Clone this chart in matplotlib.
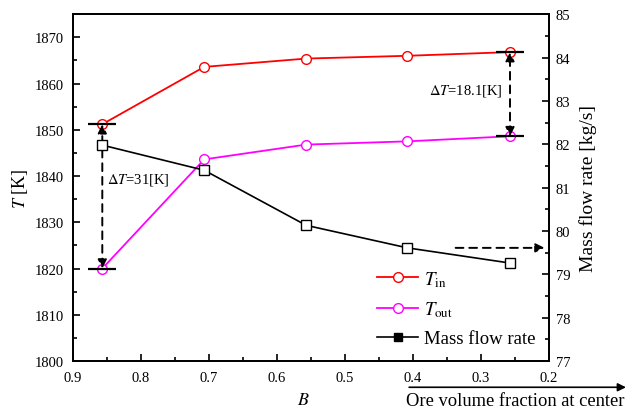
import numpy as np
import matplotlib.pyplot as plt
from matplotlib.lines import Line2D
from matplotlib.patches import FancyArrowPatch

plt.rcParams['font.family'] = ['Liberation Serif', 'DejaVu Serif']
plt.rcParams['mathtext.fontset'] = 'stix'
plt.rcParams['font.size'] = 10.5

# Data
B = np.array([0.857, 0.707, 0.557, 0.408, 0.257])
T_in = np.array([1851.2, 1863.6, 1865.4, 1866.0, 1866.8])
T_out = np.array([1820.0, 1843.6, 1846.8, 1847.5, 1848.6])
mflow = np.array([81.98, 81.40, 80.13, 79.61, 79.26])
dT_labels = [r'$\Delta T$=31[K]', r'$\Delta T$=18.1[K]']

fig = plt.figure(figsize=(6.3, 4.1), dpi=100)
ax1 = fig.add_axes([0.116, 0.117, 0.755, 0.846])
ax2 = ax1.twinx()

ax1.plot(B, T_in, 'r-', marker='o', ms=7, mfc='white', mec='red', lw=1.3, zorder=3)
ax1.plot(B, T_out, '-', color='magenta', marker='o', ms=7, mfc='white', mec='magenta', lw=1.3, zorder=3)
ax2.plot(B, mflow, 'k-', marker='s', ms=6.5, mfc='white', mec='k', lw=1.2)

# Delta T markers
for i, lab, dx, dy, ha in [(0, dT_labels[0], -0.007, 3.7, 'left'), (-1, dT_labels[1], 0.011, 1.0, 'right')]:
    ax1.plot([B[i], B[i]], [T_in[i], T_out[i]], 'k_', ms=20, mew=1.6, zorder=4)
    ax1.annotate('', xy=(B[i], T_in[i]), xytext=(B[i], T_out[i]),
                 arrowprops=dict(arrowstyle='<|-|>', color='k', lw=1.4, ls=(0, (4, 3)),
                                 shrinkA=0, shrinkB=0, mutation_scale=13), zorder=4)
    ax1.text(B[i] + dx, (T_in[i] + T_out[i]) / 2 + dy, lab, ha=ha, va='center', fontsize=10.5)

ax2.annotate('', xy=(0.2, mflow[3]), xytext=(0.337, mflow[3]),
             arrowprops=dict(arrowstyle='-|>', color='k', lw=1.4, ls=(0, (4, 3)),
                             shrinkA=0, shrinkB=3, mutation_scale=13))

ax1.set_xlim(0.9, 0.2)
ax1.set_ylim(1800, 1875)
ax2.set_ylim(77, 85)
ax1.set_xticks(np.arange(0.9, 0.19, -0.1))
ax1.set_xticks(np.arange(0.85, 0.2, -0.1), minor=True)
ax1.set_yticks(np.arange(1800, 1871, 10))
ax1.set_yticks(np.arange(1805, 1875, 10), minor=True)
ax2.set_yticks(np.arange(77, 85.1, 1))
ax2.set_yticks(np.arange(77.5, 85, 1), minor=True)

for ax in (ax1, ax2):
    ax.tick_params(which='both', direction='in', width=1.2, labelsize=10.5)
    ax.tick_params(which='major', length=5)
    ax.tick_params(which='minor', length=3)
    for s in ax.spines.values():
        s.set_linewidth(1.3)
ax1.tick_params(which='both', top=False, right=False)
ax1.tick_params(axis='x', pad=7)
ax1.tick_params(axis='y', pad=6.5)
ax2.tick_params(axis='y', pad=5)

ax1.set_xlabel(r'$B$', fontsize=13, labelpad=0)
ax1.xaxis.set_label_coords(0.485, -0.085)
ax1.set_ylabel(r'$T$ [K]', fontsize=13)
ax1.yaxis.set_label_coords(-0.09, 0.5)
ax2.set_ylabel('Mass flow rate [kg/s]', fontsize=14)
ax2.yaxis.set_label_coords(1.063, 0.5)

handles = [
    Line2D([], [], color='red', marker='o', mfc='white', mec='red', ms=7, lw=1.3),
    Line2D([], [], color='magenta', marker='o', mfc='white', mec='magenta', ms=7, lw=1.3),
    Line2D([], [], color='k', marker='s', mfc='k', mec='k', ms=6, lw=1.2),
]
ax1.legend(handles, [r'$T_{\mathrm{in}}$', r'$T_{\mathrm{out}}$', 'Mass flow rate'],
           loc='lower right', bbox_to_anchor=(0.972, 0.04), frameon=False, fontsize=13.5,
           handlelength=2.2, handletextpad=0.3, labelspacing=0.58,
           borderpad=0, borderaxespad=0)

# Arrow below the axes
fig.patches.append(FancyArrowPatch(
    (0.645, 0.053), (0.998, 0.053), transform=fig.transFigure, arrowstyle='-|>',
    mutation_scale=12, color='k', lw=1.2))
fig.text(0.645, 0.021, 'Ore volume fraction at center', fontsize=13.3, ha='left', va='center')

fig.savefig('out.png', dpi=100)
